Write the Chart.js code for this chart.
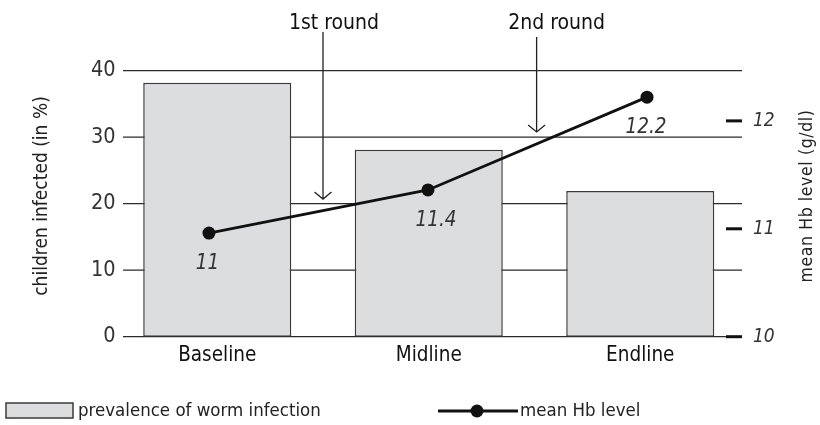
<!DOCTYPE html>
<html>
<head>
<meta charset="utf-8">
<script src="https://cdn.jsdelivr.net/npm/chart.js@4.4.1/dist/chart.umd.min.js"></script>
<style>
  body { margin: 0; background: #fff; }
  #wrap { width: 820px; height: 425px; }
</style>
</head>
<body>
<div id="wrap"><canvas id="grafico"></canvas></div>
<script>
// data
const categories = ['Baseline', 'Midline', 'Endline'];
const wormPrevalence = [38.2, 28.1, 21.9];
const meanHb = [10.96, 11.36, 12.22];
const hbLabels = ['11', '11.4', '12.2'];
const leftTicks = [0, 10, 20, 30, 40];
const rightTicks = [10, 11, 12];
const rounds = ['1st round', '2nd round'];
const roundAt = [0.5, 1.51];      // between categories
const roundTip = [20.7, 30.8];    // arrow tip, in % axis

const FONT = '"DejaVu Sans Condensed", "Liberation Sans Narrow", sans-serif';
Chart.defaults.font.family = FONT;

const decor = {
    id: 'decor',
    beforeDatasetsDraw(chart) {
        const { ctx, chartArea: a, scales: { y, y1 } } = chart;
        ctx.save();
        // horizontal rules (bars are painted over them)
        ctx.strokeStyle = '#2b2b2b';
        ctx.lineWidth = 1.2;
        ctx.font = '21.5px ' + FONT;
        ctx.fillStyle = '#333';
        ctx.textAlign = 'right';
        ctx.textBaseline = 'middle';
        leftTicks.forEach(v => {
            const py = y.getPixelForValue(v);
            ctx.beginPath();
            ctx.moveTo(a.left + 11.5, py);
            ctx.lineTo(a.right - 4, py);
            ctx.stroke();
            ctx.fillText(String(v), a.left + 4, py);
        });
        // short thick marks of the Hb axis
        ctx.lineWidth = 3;
        ctx.strokeStyle = '#111';
        rightTicks.forEach(v => {
            const py = y1.getPixelForValue(v);
            ctx.beginPath();
            ctx.moveTo(a.right - 20, py);
            ctx.lineTo(a.right - 4, py);
            ctx.stroke();
        });
        ctx.restore();
    },
    afterDatasetsDraw(chart) {
        const { ctx, scales: { x, y } } = chart;
        ctx.save();

        // "1st round" / "2nd round" arrows
        const tops = [32, 37];
        const textDx = [11, 20];
        rounds.forEach((txt, i) => {
            const px = x.getPixelForValue(roundAt[i]);
            const tip = y.getPixelForValue(roundTip[i]);
            ctx.strokeStyle = '#222';
            ctx.lineWidth = 1.3;
            ctx.beginPath();
            ctx.moveTo(px, tops[i]);
            ctx.lineTo(px, tip);
            ctx.moveTo(px - 8.5, tip - 7);
            ctx.lineTo(px, tip);
            ctx.lineTo(px + 8.5, tip - 7);
            ctx.stroke();

            ctx.fillStyle = '#111';
            ctx.font = '21px ' + FONT;
            ctx.textAlign = 'center';
            ctx.textBaseline = 'alphabetic';
            ctx.fillText(txt, px + textDx[i], 29);
        });

        // value labels under the Hb points
        const meta = chart.getDatasetMeta(1);
        const labelDx = [-1.5, 8, -1];
        ctx.font = 'italic 20.5px ' + FONT;
        ctx.fillStyle = '#333';
        ctx.textAlign = 'center';
        ctx.textBaseline = 'middle';
        meta.data.forEach((pt, i) => {
            ctx.fillText(hbLabels[i], pt.x + labelDx[i], pt.y + 31);
        });
        ctx.restore();
    },
    afterDraw(chart) {
        const { ctx } = chart;
        ctx.save();
        ctx.fillStyle = '#222';
        ctx.textAlign = 'center';
        ctx.textBaseline = 'middle';

        // axis titles
        ctx.font = '19px ' + FONT;
        ctx.translate(42, 196);
        ctx.rotate(-Math.PI / 2);
        ctx.fillText('children infected (in %)', 0, 0);
        ctx.restore();

        ctx.save();
        ctx.fillStyle = '#222';
        ctx.textAlign = 'center';
        ctx.textBaseline = 'middle';
        ctx.font = '17.5px ' + FONT;
        ctx.letterSpacing = '0.6px';
        ctx.translate(807, 196);
        ctx.rotate(-Math.PI / 2);
        ctx.fillText('mean Hb level (g/dl)', 0, 0);
        ctx.restore();

        // legend
        ctx.save();
        const ly = 411;
        ctx.fillStyle = '#dcdddf';
        ctx.strokeStyle = '#3a3a3a';
        ctx.lineWidth = 1.5;
        ctx.fillRect(6, 403, 67, 15);
        ctx.strokeRect(6, 403, 67, 15);
        ctx.font = '18.5px ' + FONT;
        ctx.fillStyle = '#222';
        ctx.textAlign = 'left';
        ctx.textBaseline = 'middle';
        ctx.fillText('prevalence of worm infection', 78, ly);

        ctx.strokeStyle = '#111';
        ctx.lineWidth = 2.8;
        ctx.beginPath();
        ctx.moveTo(438, ly);
        ctx.lineTo(518, ly);
        ctx.stroke();
        ctx.fillStyle = '#111';
        ctx.beginPath();
        ctx.arc(477, ly, 6.5, 0, Math.PI * 2);
        ctx.fill();
        ctx.fillStyle = '#222';
        ctx.fillText('mean Hb level', 520, ly);
        ctx.restore();
    }
};

const ctx = document.getElementById('grafico').getContext('2d');

new Chart(ctx, {
    data: {
        labels: categories,
        datasets: [{
            type: 'bar',
            label: 'prevalence of worm infection',
            data: wormPrevalence,
            backgroundColor: '#dcdddf',
            borderColor: '#3a3a3a',
            borderWidth: 1.5,
            borderSkipped: false,
            grouped: false,
            barPercentage: 0.7,
            categoryPercentage: 1,
            xAxisID: 'x',
            yAxisID: 'y',
            order: 2
        }, {
            type: 'line',
            label: 'mean Hb level',
            data: meanHb.map((v, i) => ({ x: i, y: v })),
            borderColor: '#111',
            borderWidth: 2.8,
            pointRadius: 6.5,
            pointBackgroundColor: '#111',
            pointBorderWidth: 0,
            tension: 0,
            xAxisID: 'x2',
            yAxisID: 'y1',
            order: 1
        }]
    },
    options: {
        responsive: true,
        maintainAspectRatio: false,
        animation: false,
        layout: { padding: { left: 0, right: 0, top: 70.7, bottom: 58.3 } },
        plugins: {
            legend: { display: false },
            tooltip: { enabled: false }
        },
        scales: {
            x: {
                type: 'category',
                offset: true,
                grid: { display: false, drawTicks: false },
                border: { display: false },
                ticks: { font: { size: 20.5 }, color: '#111', padding: 7 },
                afterFit: s => { s.height = 30; }
            },
            x2: {
                type: 'linear',
                display: false,
                min: -0.445,
                max: 2.452
            },
            y: {
                position: 'left',
                min: 0,
                max: 40,
                grid: { display: false, drawTicks: false },
                border: { display: false },
                ticks: { display: false },
                afterBuildTicks: s => { s.ticks = leftTicks.map(v => ({ value: v })); },
                afterFit: s => { s.width = 111.5; }
            },
            y1: {
                position: 'right',
                min: 10,
                max: 12.465,
                grid: { display: false, drawTicks: false },
                border: { display: false },
                ticks: { font: { size: 19, style: 'italic' }, color: '#333', padding: 7 },
                afterBuildTicks: s => { s.ticks = rightTicks.map(v => ({ value: v })); },
                afterFit: s => { s.width = 74; }
            }
        }
    },
    plugins: [decor]
});
</script>
</body>
</html>
